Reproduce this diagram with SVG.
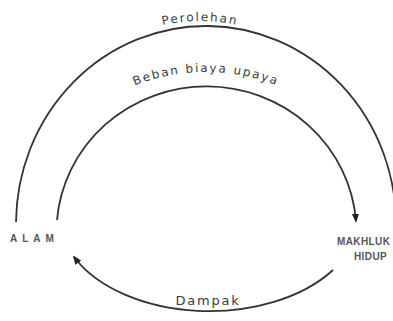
<svg xmlns="http://www.w3.org/2000/svg" width="393" height="321" viewBox="0 0 393 321">
<style>
.arc{fill:none;stroke:#333;stroke-width:1.8}
.lbl{font-family:"DejaVu Sans",sans-serif;font-size:12px;fill:#3c3c3c;letter-spacing:1.8px}
.node{font-family:"Liberation Sans",Arial,sans-serif;font-size:10px;font-weight:bold;fill:#555;}
</style>
<defs>
<marker id="ah" viewBox="0 0 10 10" refX="8" refY="5" markerWidth="5" markerHeight="5" orient="auto">
<path d="M0,1 L10,5 L0,9 z" fill="#222"/>
</marker>
<path id="tpOuter" d="M10,230 A190 209 0 0 1 390,230"/>
<path id="tpInner" d="M30,230 A176 158 0 0 1 382,230"/>
</defs>
<rect width="393" height="321" fill="#fff"/>
<g id="connectors">
<path class="arc" d="M16,222 A190 198 0 0 1 396,226"/>
<path class="arc" d="M57,220 A150 146 0 0 1 356,221" marker-end="url(#ah)"/>
<path class="arc" d="M333,270 A150 95 0 0 1 74,257" marker-end="url(#ah)"/>
<text class="lbl"><textPath href="#tpOuter" startOffset="50%" text-anchor="middle">Perolehan</textPath></text>
<text class="lbl"><textPath href="#tpInner" startOffset="50%" text-anchor="middle">Beban biaya upaya</textPath></text>
<text class="lbl" x="208" y="305" text-anchor="middle" style="font-size:13px">Dampak</text>
</g>
<g id="alam">
<text class="node" x="10" y="242" style="letter-spacing:5px">ALAM</text>
</g>
<g id="makhluk-hidup">
<text class="node" x="337" y="245" style="letter-spacing:0.4px">MAKHLUK</text>
<text class="node" x="354" y="260" style="letter-spacing:0.4px">HIDUP</text>
</g>
</svg>
